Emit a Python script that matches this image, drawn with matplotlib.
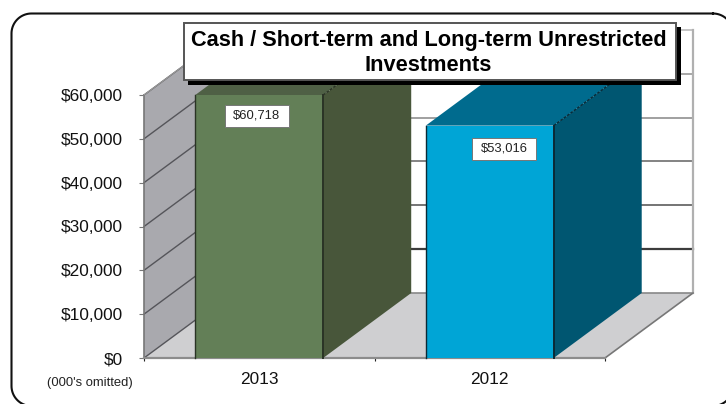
import numpy as np
import matplotlib
matplotlib.use("Agg")
import matplotlib.pyplot as plt
from matplotlib.patches import Polygon, Rectangle

plt.rcParams['font.family'] = ['Liberation Sans', 'DejaVu Sans']

years = ['2013', '2012']
cash_values = [60718, 53016]
y_ticks = [0, 10000, 20000, 30000, 40000, 50000, 60000]
y_max = 60000

front_colors = ['#637F57', '#00A5D6']
side_colors = ['#48563A', '#005671']
top_colors = ['#4F6045', '#006B8E']
edge_colors = ['#2A3325', '#0B2A36']
grid_colors = ['#888888', '#3C3C3C', '#5C5C5C', '#6E6E6E', '#909090', '#989898', '#BBBBBB']

W, H = 726, 404
# oblique depth of the fake 3d box, in data units
depth_x = 88 / 230.5
depth_y = 14830
bar_width = 0.555
x_min, x_max = -0.5, 1.5


def shift(x, y):
    return (x + depth_x, y + depth_y)


def poly(ax, pts, color, z, edge='none', lw=0):
    ax.add_patch(Polygon(pts, closed=True, facecolor=color, edgecolor=edge,
                         linewidth=lw, zorder=z, clip_on=False))


def round_frame(left, top, right, bottom, r):
    # plain polyline, curved patches get distorted when they run off the canvas
    xs, ys = [], []
    corners = [(right - r, top + r, -90), (right - r, bottom - r, 0),
               (left + r, bottom - r, 90), (left + r, top + r, 180)]
    for cx, cy, start in corners:
        a = np.radians(np.linspace(start, start + 90, 20))
        xs.extend(cx + r * np.cos(a))
        ys.extend(cy + r * np.sin(a))
    return xs + xs[:1], ys + ys[:1]


fig = plt.figure(figsize=(W / 100, H / 100), dpi=100)
ax = fig.add_axes([144 / W, (H - 358) / H, 461 / W, 263 / H])
ax.set_xlim(x_min, x_max)
ax.set_ylim(0, y_max)
ax.patch.set_alpha(0)
for s in ax.spines.values():
    s.set_visible(False)

# walls and floor
poly(ax, [(x_min, 0), shift(x_min, 0), shift(x_min, y_max), (x_min, y_max)], '#A9A9AE', 1)
poly(ax, [(x_min, 0), (x_max, 0), shift(x_max, 0), shift(x_min, 0)], '#CFCFD1', 1)

for tick, col in zip(y_ticks, grid_colors):
    # left wall
    ax.plot([x_min, shift(x_min, tick)[0]], [tick, shift(x_min, tick)[1]], color='#55555A',
            lw=1.0, zorder=2, clip_on=False)
    # back wall
    ax.plot([shift(x_min, tick)[0], shift(x_max, tick)[0]], [tick + depth_y, tick + depth_y],
            color=col, lw=1.6 if tick == 10000 else 1.2, zorder=2, clip_on=False)

ax.plot([shift(x_max, 0)[0]] * 2, [depth_y, y_max + depth_y], color='#B0B0B0', lw=1.6,
        zorder=2, clip_on=False)
ax.plot([x_max, shift(x_max, 0)[0]], [0, depth_y], color='#777777', lw=1.2, zorder=2, clip_on=False)
ax.plot([x_min, x_min], [0, y_max], color='#777777', lw=1.2, zorder=2, clip_on=False)
ax.plot([x_min, shift(x_min, y_max)[0]], [y_max, y_max + depth_y], color='#9A9A9A', lw=0.8,
        zorder=2, clip_on=False)
ax.plot([x_min, x_max], [0, 0], color='#8C8C8C', lw=1.6, zorder=2, clip_on=False)

# bars, the taller one is cut at the axis maximum like the original
for i, value in enumerate(cash_values):
    top = min(value, y_max)
    x0 = i - bar_width / 2
    x1 = i + bar_width / 2
    poly(ax, [(x1, 0), shift(x1, 0), shift(x1, top), (x1, top)], side_colors[i], 3 + i)
    poly(ax, [(x0, top), (x1, top), shift(x1, top), shift(x0, top)], top_colors[i], 3 + i)
    poly(ax, [(x0, 0), (x1, 0), (x1, top), (x0, top)], front_colors[i], 3 + i)
    # dark edges only on the vertical sides and the corner going back
    ax.plot([x0, x0], [0, top], color=edge_colors[i], lw=1.0, zorder=3.5 + i, clip_on=False)
    ax.plot([x1, x1], [0, top], color=edge_colors[i], lw=1.4, zorder=3.5 + i, clip_on=False)
    ax.plot([x1, shift(x1, top)[0]], [top, shift(x1, top)[1]], color=edge_colors[i], lw=1.0,
            ls=(0, (2, 1)), zorder=3.5 + i, clip_on=False)

ax.set_yticks(y_ticks)
ax.set_yticklabels(['${:,}'.format(t) for t in y_ticks], fontsize=12.4, color='#111111')
ax.tick_params(axis='y', length=3.6, width=0.8, color='#777777', pad=11.5)
ax.set_xticks([0, 1])
ax.set_xticklabels(years, fontsize=12.4, color='#111111')
ax.tick_params(axis='x', which='major', length=0, pad=10)
ax.set_xticks([-0.5, 0.5, 1.5], minor=True)
ax.tick_params(axis='x', which='minor', length=2.5, width=0.8, color='#222222')

# overlay in pixel coordinates for frame, title box and labels
over = fig.add_axes([0, 0, 1, 1], zorder=5)
over.set_xlim(0, W)
over.set_ylim(H, 0)
over.axis('off')

# frame runs off the right and bottom of the picture
frame_x, frame_y = round_frame(11.5, 13.5, 733, 406, 20)
over.plot(frame_x, frame_y, color='#111111', lw=1.5)

# title box with hard black shadow
over.add_patch(Rectangle((188, 27), 492.5, 58, facecolor='black', edgecolor='none'))
over.add_patch(Rectangle((184, 23), 492, 57, facecolor='white', edgecolor='#555555', linewidth=1.4))
over.text(428.5, 45.7, 'Cash / Short-term and Long-term Unrestricted', ha='center', va='baseline',
          fontsize=15.7, fontweight='bold', color='black')
over.text(428.5, 71, 'Investments', ha='center', va='baseline',
          fontsize=15.7, fontweight='bold', color='black')

# value labels
label_boxes = [(224.5, 104.5), (472, 137.5)]
for (bx, by), value in zip(label_boxes, cash_values):
    over.add_patch(Rectangle((bx, by), 64, 22, facecolor='white', edgecolor='#777777', linewidth=0.7))
    over.text(bx + 32, by + 11, '${:,}'.format(value), ha='center', va='center',
              fontsize=9.4, color='#222222')

over.text(90, 383, "(000's omitted)", ha='center', va='center', fontsize=9.4, color='#222222')

fig.savefig('out.png', dpi=100)
